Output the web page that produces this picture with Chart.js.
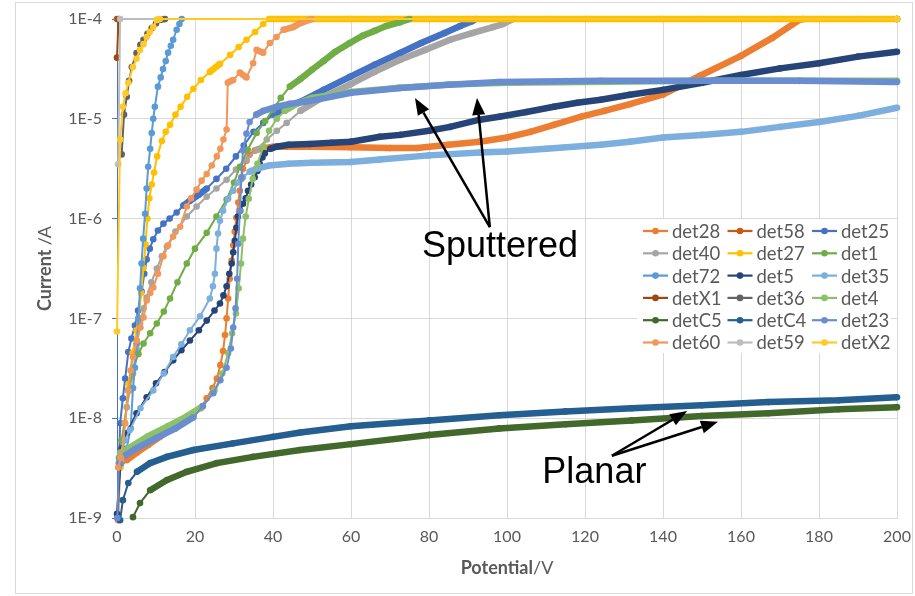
<!DOCTYPE html>
<html>
<head>
<meta charset="utf-8">
<script src="https://cdn.jsdelivr.net/npm/chart.js@4.4.1/dist/chart.umd.min.js"></script>
<style>
  html, body { margin: 0; padding: 0; background: #fff; }
</style>
</head>
<body>
<canvas id="myChart" width="915" height="596"></canvas>
<script>
// data: [potential V, current A]
var det28 = [[0.3,9.5e-10],[0.8,3.2e-9],[2.5,3.8e-9],[5,4.5e-9],[8,5.4e-9],[11,6.5e-9],[14,7.9e-9],[17,9.3e-9],[19.6,1.07e-8],[21.5,1.26e-8],[23,1.58e-8],[24.5,2e-8],[25.6,2.5e-8],[26.5,3.4e-8],[27.2,4.7e-8],[27.7,6.8e-8],[28.1,1e-7],[28.5,1.58e-7],[28.9,2.5e-7],[29.4,3.8e-7],[29.8,5.4e-7],[30.2,7.4e-7],[30.6,1.02e-6],[31.1,1.45e-6],[31.5,1.9e-6],[31.9,2.5e-6],[32.3,3.16e-6],[33.2,3.8e-6],[34,4.37e-6],[35.3,4.8e-6],[36.6,5e-6],[40,5.25e-6],[50,5.25e-6],[60,5.2e-6],[70,5.1e-6],[77,5.1e-6],[85,5.5e-6],[93,5.9e-6],[100,6.5e-6],[106,7.4e-6],[112,8.7e-6],[119,1.05e-5],[125,1.2e-5],[131.5,1.4e-5],[140,1.75e-5],[149.5,2.7e-5],[160,4.27e-5],[168,6.46e-5],[175,9.8e-5],[176,1e-4]];
var det58 = [[0,1e-4],[200,1e-4]];
var det25 = [[0.1,1e-9],[0.8,8.9e-9],[1.5,1.58e-8],[2.1,2.5e-8],[2.9,4.6e-8],[3.7,6.3e-8],[4.6,8.5e-8],[5.4,1.2e-7],[6.3,1.86e-7],[7,2.8e-7],[7.6,3.9e-7],[8.4,5e-7],[9.3,6.2e-7],[10.5,7.6e-7],[11.9,8.9e-7],[13.5,1e-6],[15.3,1.15e-6],[17,1.35e-6],[18.7,1.51e-6],[21,1.74e-6],[23,2e-6],[25.5,2.5e-6],[28,3.16e-6],[30.5,4.2e-6],[32.5,5.4e-6],[35,7.4e-6],[37.5,9.1e-6],[40,1.1e-5],[43,1.26e-5],[47,1.48e-5],[53,1.95e-5],[59.7,2.63e-5],[66,3.47e-5],[72.6,4.57e-5],[78,5.75e-5],[84,7.24e-5],[88,8.5e-5],[91,9.5e-5],[92,1e-4]];
var det40 = [[0.5,3.55e-9],[1.2,6e-9],[2.5,1.29e-8],[3.3,1.9e-8],[4.1,2.8e-8],[5,5e-8],[5.9,8.9e-8],[6.8,1.26e-7],[7.6,1.62e-7],[8.8,2.3e-7],[10.2,3.16e-7],[11.5,4.2e-7],[12.8,5.25e-7],[15,7.4e-7],[17.9,1.05e-6],[20.4,1.32e-6],[23,1.66e-6],[25.5,2e-6],[28.1,2.45e-6],[30.5,3.1e-6],[33.2,3.9e-6],[35.8,4.9e-6],[38.4,6.2e-6],[41,7.6e-6],[43.5,9.1e-6],[47,1.2e-5],[53,1.66e-5],[59.7,2.2e-5],[66,2.95e-5],[72.6,3.9e-5],[79,4.9e-5],[85.4,6.2e-5],[91,7.2e-5],[96.4,8.3e-5],[99,8.9e-5],[101.5,1e-4]];
var det27 = [[0.8,3.2e-9],[2,9e-9],[3,2.2e-8],[4,4.5e-8],[5,7.6e-8],[5.5,1e-7],[6.2,1.8e-7],[6.8,3.2e-7],[7.3,5.5e-7],[7.8,1e-6],[8.3,1.6e-6],[8.9,2.2e-6],[9.5,2.9e-6],[10.3,4.2e-6],[11.5,6e-6],[12.5,7.4e-6],[13.6,8.7e-6],[15,1.1e-5],[16.3,1.32e-5],[18,1.66e-5],[19.6,2e-5],[21.5,2.45e-5],[23.8,2.95e-5],[26.4,3.55e-5],[29,4.37e-5],[31.2,5.25e-5],[33.2,6.2e-5],[35.4,7.4e-5],[37.5,8.9e-5],[39,1e-4],[50,1e-4],[60,1e-4],[70,1e-4],[80,1e-4],[90,1e-4],[100,1e-4],[110,1e-4],[120,1e-4],[130,1e-4],[140,1e-4],[150,1e-4],[160,1e-4],[170,1e-4],[180,1e-4],[190,1e-4],[200,1e-4]];
var det1 = [[0.5,4e-9],[1.2,6e-9],[2,8.9e-9],[2.9,1.9e-8],[4.2,3.2e-8],[5.5,4.4e-8],[6.8,5.6e-8],[8.5,7.1e-8],[10.2,8.9e-8],[12,1.17e-7],[13.6,1.58e-7],[15.5,2.3e-7],[17.9,3.55e-7],[20,5e-7],[23,7.2e-7],[25.5,1.05e-6],[28.1,1.55e-6],[30,2.3e-6],[31.5,3.3e-6],[33.5,4.9e-6],[35.8,7.2e-6],[38,9.5e-6],[40,1.23e-5],[42,1.62e-5],[44.3,2.1e-5],[47,2.5e-5],[50,3.1e-5],[53,3.8e-5],[56,4.7e-5],[59.7,5.75e-5],[63,6.8e-5],[66,7.6e-5],[69,8.5e-5],[72.6,9.3e-5],[75,1e-4]];
var det72 = [[1,3.5e-9],[2.5,5e-9],[3.5,7.9e-9],[4.1,2e-8],[4.6,3.2e-8],[5.1,5.6e-8],[5.5,1e-7],[5.9,2e-7],[6.3,3.55e-7],[6.7,6.3e-7],[7.2,1.12e-6],[7.6,2e-6],[8,3.3e-6],[8.5,5e-6],[8.9,7.2e-6],[9.3,1e-5],[9.7,1.32e-5],[10.5,2.1e-5],[11.2,2.6e-5],[11.8,3.16e-5],[12.5,3.8e-5],[13.1,4.6e-5],[13.8,5.4e-5],[14.4,6.2e-5],[15.3,7.8e-5],[16,8.9e-5],[16.6,1e-4]];
var det5 = [[0,1.1e-9],[1.2,5e-9],[2.5,7.1e-9],[5,1.12e-8],[7.6,1.62e-8],[10,2.24e-8],[12.2,2.9e-8],[14.4,3.8e-8],[16.5,4.8e-8],[18.7,6e-8],[21,7.6e-8],[23,9.5e-8],[25,1.2e-7],[26.4,1.41e-7],[27.3,1.7e-7],[28.1,2.1e-7],[28.8,2.8e-7],[29.4,3.55e-7],[29.8,4.6e-7],[30.2,6e-7],[30.6,8.1e-7],[31,1.05e-6],[31.6,1.2e-6],[32.3,1.41e-6],[33,1.6e-6],[33.6,1.9e-6],[34.4,2.2e-6],[35.3,2.6e-6],[36,3e-6],[36.6,3.55e-6],[37.3,4.1e-6],[37.9,4.5e-6],[39.3,5e-6],[40.9,5.25e-6],[44,5.5e-6],[49.4,5.6e-6],[55,5.75e-6],[60,5.9e-6],[67.4,6.6e-6],[72.6,6.9e-6],[80,7.6e-6],[85.4,8.3e-6],[93,9.8e-6],[98,1.05e-5],[105,1.17e-5],[112,1.32e-5],[118,1.45e-5],[124,1.55e-5],[131.5,1.74e-5],[140,1.95e-5],[150,2.3e-5],[160,2.75e-5],[170,3.2e-5],[180,3.6e-5],[190,4.2e-5],[200,4.7e-5]];
var det35 = [[0.8,4e-9],[2,6e-9],[3.3,7.6e-9],[6,1.26e-8],[9.3,1.9e-8],[12,2.8e-8],[14.4,4.1e-8],[16.5,5.5e-8],[18.7,7.6e-8],[21.3,1.05e-7],[23.8,1.58e-7],[24.6,2.1e-7],[25.1,2.8e-7],[25.5,5e-7],[25.9,7.1e-7],[26.4,9.5e-7],[27.2,1.2e-6],[28.5,1.58e-6],[29.8,1.9e-6],[31,2.3e-6],[32.3,2.6e-6],[34,2.95e-6],[35.7,3.16e-6],[39,3.4e-6],[44,3.55e-6],[50,3.63e-6],[60,3.7e-6],[67.4,3.9e-6],[80,4.3e-6],[93,4.6e-6],[100,4.7e-6],[110,5e-6],[124,5.5e-6],[131.5,5.9e-6],[140,6.5e-6],[150,6.9e-6],[160,7.4e-6],[170,8.3e-6],[180,9.3e-6],[190,1.07e-5],[200,1.29e-5]];
var detX1 = [[0,4.1e-5],[0.4,1e-4],[200,1e-4]];
var det36 = [[1.2,4.4e-6],[1.8,1.1e-5],[2.5,1.66e-5],[3.1,2.4e-5],[3.8,3.3e-5],[5,4.57e-5],[6,5.5e-5],[6.8,6.2e-5],[7.8,7.1e-5],[8.9,8.1e-5],[10,9e-5],[11,9.8e-5],[12.3,1e-4]];
var det4 = [[0.8,4.5e-9],[3,5e-9],[8,6.6e-9],[13,8.3e-9],[18,1.05e-8],[22,1.32e-8],[25,1.9e-8],[27,2.8e-8],[28.5,4.5e-8],[29.5,7.1e-8],[30.5,1.12e-7],[31.2,2e-7],[31.8,3.55e-7],[32.3,6.3e-7],[33,1.05e-6],[33.8,1.58e-6],[34.8,2.5e-6],[36,3.55e-6],[37.5,5.25e-6],[39,7.6e-6],[41,1e-5],[43,1.2e-5],[46,1.41e-5],[50,1.62e-5],[60,1.86e-5],[72,2.04e-5],[85,2.2e-5],[100,2.3e-5],[120,2.34e-5],[150,2.4e-5],[175,2.4e-5],[200,2.4e-5]];
var detC5 = [[4.1,1.02e-9],[5.9,1.41e-9],[8.5,1.9e-9],[12.8,2.4e-9],[17.9,2.9e-9],[25.6,3.55e-9],[34.9,4.1e-9],[47,4.8e-9],[60,5.5e-9],[80,6.8e-9],[98,7.9e-9],[115,8.7e-9],[132,9.5e-9],[150,1.05e-8],[167,1.12e-8],[185,1.23e-8],[200,1.29e-8]];
var detC4 = [[0.8,9.5e-10],[1.5,1.51e-9],[2.9,2.24e-9],[5.1,2.9e-9],[8.5,3.55e-9],[12.8,4.1e-9],[19.6,4.8e-9],[29.8,5.6e-9],[40,6.5e-9],[47,7.2e-9],[60,8.3e-9],[80,9.5e-9],[98,1.07e-8],[115,1.17e-8],[132,1.26e-8],[150,1.35e-8],[167,1.45e-8],[185,1.51e-8],[200,1.62e-8]];
var det23 = [[0.1,1e-9],[0.5,3.55e-9],[2,4.2e-9],[5,5e-9],[10,6.3e-9],[15,7.9e-9],[19.6,1.02e-8],[22,1.32e-8],[24.7,1.78e-8],[26.5,2.4e-8],[28.1,3.2e-8],[29.2,5e-8],[29.8,8.1e-8],[30.4,1.26e-7],[30.8,2.5e-7],[31.1,5.6e-7],[31.5,1.2e-6],[31.9,2.6e-6],[32.3,4.8e-6],[33.2,7.1e-6],[34,9.3e-6],[35.7,1.1e-5],[37.5,1.2e-5],[41,1.32e-5],[44.3,1.41e-5],[49.4,1.51e-5],[60,1.82e-5],[72.6,2.04e-5],[85,2.19e-5],[98,2.34e-5],[124,2.4e-5],[150,2.4e-5],[175,2.4e-5],[200,2.34e-5]];
var det60 = [[0.3,3.2e-9],[1,4e-9],[2.1,8.9e-9],[2.9,1.9e-8],[3.5,3e-8],[4.1,4.1e-8],[5.1,6e-8],[6,8.1e-8],[6.8,1.02e-7],[7.6,1.51e-7],[8.5,1.8e-7],[9.3,2.04e-7],[10.5,2.8e-7],[11.9,4.2e-7],[13.1,5.4e-7],[14.4,6.6e-7],[16.2,8.3e-7],[17.9,1.32e-6],[19,1.6e-6],[20.4,1.95e-6],[21.7,2.4e-6],[23,2.8e-6],[24.3,3.4e-6],[25.6,4.2e-6],[26.5,5e-6],[27.3,6.2e-6],[28.1,7.8e-6],[28.4,2.3e-5],[29.8,2.45e-5],[31.5,2.9e-5],[33.2,2.6e-5],[34.9,3.6e-5],[35.8,4.9e-5],[37.5,4.6e-5],[39.2,5.75e-5],[40.9,6.6e-5],[42.7,7.8e-5],[45.2,8.3e-5],[47,9.1e-5],[50,1e-4]];
var det59 = [[0.3,3.5e-6],[0.8,1e-4],[200,1e-4]];
var detX2 = [[0,7.4e-8],[0.8,6.2e-6],[1.5,1.32e-5],[2.2,1.8e-5],[2.9,2.3e-5],[4.1,3.3e-5],[5,4e-5],[5.9,4.9e-5],[6.8,5.6e-5],[7.6,6.6e-5],[8.4,7.4e-5],[9.3,8.3e-5],[10.2,9.8e-5],[11,1e-4],[200,1e-4]];

var names = ["det28","det58","det25","det40","det27","det1","det72","det5","det35","detX1","det36","det4","detC5","detC4","det23","det60","det59","detX2"];
var series = [det28,det58,det25,det40,det27,det1,det72,det5,det35,detX1,det36,det4,detC5,detC4,det23,det60,det59,detX2];
var colors = ["#ED7D31","#C55A11","#4472C4","#A5A5A5","#FFC000","#70AD47","#5B9BD5","#264478","#7CAFDD","#9E480E","#636363","#8CC168","#43682B","#255E91","#698ED0","#F1975A","#BDBDBD","#FFCA28"];

var yTicks = [1e-9,1e-8,1e-7,1e-6,1e-5,1e-4];
var xTicks = [0,20,40,60,80,100,120,140,160,180,200];

// annotation anchors in data units: [text, textX, textY, tailX, tailY, [tips]]
var notes = [
  ["Sputtered", 98.2, 4.1e-7, 95.6, 8.2e-7, [[76.4, 1.62e-5], [92.3, 1.62e-5]]],
  ["Planar", 122.4, 2.24e-9, 126.9, 4.2e-9, [[146.2, 1.18e-8], [154.1, 9.2e-9]]]
];

var gray = "#595959";

// dense measured parts show as a solid band of overlapping markers
function segWidth(c) {
  var dx = Math.abs(c.p1.x - c.p0.x), dy = Math.abs(c.p1.y - c.p0.y);
  return (dx < 150 && dy < dx * 0.8) ? 6.5 : 2;
}

var datasets = series.map(function (s, i) {
  return {
    label: names[i],
    data: s.map(function (p) { return { x: p[0], y: p[1] }; }),
    borderColor: colors[i],
    backgroundColor: colors[i],
    pointBackgroundColor: colors[i],
    pointBorderWidth: 0,
    pointRadius: 3.3,
    borderWidth: 2,
    tension: 0,
    clip: false,
    order: series.length - i,
    segment: { borderWidth: segWidth }
  };
});

var frame = {
  id: "frame",
  beforeDraw: function (chart) {
    var c = chart.ctx;
    c.save();
    c.fillStyle = "#fff";
    c.fillRect(0, 0, chart.width, chart.height);
    c.strokeStyle = "#D9D9D9";
    c.lineWidth = 1;
    c.strokeRect(15.5, 2.5, 897, 591);
    c.restore();
  }
};

function mixedText(c, parts, x, y) {
  var total = 0;
  parts.forEach(function (p) { c.font = p[1]; total += c.measureText(p[0]).width; });
  var cx = x - total / 2;
  parts.forEach(function (p) {
    c.font = p[1];
    c.fillText(p[0], cx, y);
    cx += c.measureText(p[0]).width;
  });
}

var titles = {
  id: "titles",
  afterDraw: function (chart) {
    var c = chart.ctx, a = chart.chartArea;
    c.save();
    c.fillStyle = gray;
    c.textBaseline = "middle";
    c.textAlign = "left";
    mixedText(c, [["Potential", "bold 18px Lato"], ["/V", "18px Lato"]], (a.left + a.right) / 2, 568);
    c.translate(45, (a.top + a.bottom) / 2);
    c.rotate(-Math.PI / 2);
    mixedText(c, [["Current ", "bold 18px Lato"], ["/A", "18px Lato"]], 0, 0);
    c.restore();
  }
};

var legendBox = {
  id: "legendBox",
  afterDatasetsDraw: function (chart) {
    var c = chart.ctx;
    var x0 = 637, y0 = 219, colW = 84.5, rowH = 22.3;
    c.save();
    c.fillStyle = "#fff";
    c.fillRect(x0, y0, 254, 134);
    c.font = "18.5px Lato";
    c.textBaseline = "middle";
    c.textAlign = "left";
    chart.data.datasets.forEach(function (ds, i) {
      var col = i % 3, row = Math.floor(i / 3);
      var lx = x0 + 6 + col * colW, ly = y0 + 12 + row * rowH;
      c.strokeStyle = ds.borderColor;
      c.lineWidth = 2.2;
      c.beginPath();
      c.moveTo(lx, ly);
      c.lineTo(lx + 25, ly);
      c.stroke();
      c.fillStyle = ds.borderColor;
      c.beginPath();
      c.arc(lx + 12.5, ly, 3.3, 0, Math.PI * 2);
      c.fill();
      c.fillStyle = gray;
      c.fillText(ds.label, lx + 29, ly + 1);
    });
    c.restore();
  }
};

function arrow(c, x0, y0, x1, y1) {
  var ang = Math.atan2(y1 - y0, x1 - x0), L = 17, W = 6.5;
  var bx = x1 - L * Math.cos(ang), by = y1 - L * Math.sin(ang);
  c.beginPath();
  c.moveTo(x0, y0);
  c.lineTo(bx, by);
  c.stroke();
  c.beginPath();
  c.moveTo(x1, y1);
  c.lineTo(bx + W * Math.sin(ang), by - W * Math.cos(ang));
  c.lineTo(bx - W * Math.sin(ang), by + W * Math.cos(ang));
  c.closePath();
  c.fill();
}

var notesPlugin = {
  id: "notes",
  afterDatasetsDraw: function (chart) {
    var c = chart.ctx, xs = chart.scales.x, ys = chart.scales.y;
    c.save();
    c.strokeStyle = "#000";
    c.fillStyle = "#000";
    c.lineWidth = 2.5;
    notes.forEach(function (n) {
      var tx = xs.getPixelForValue(n[3]), ty = ys.getPixelForValue(n[4]);
      n[5].forEach(function (t) {
        arrow(c, tx, ty, xs.getPixelForValue(t[0]), ys.getPixelForValue(t[1]));
      });
      c.font = "36px 'Liberation Sans', Arial, sans-serif";
      c.textAlign = "center";
      c.textBaseline = "alphabetic";
      c.fillText(n[0], xs.getPixelForValue(n[1]), ys.getPixelForValue(n[2]));
    });
    c.restore();
  }
};

var ctx = document.getElementById("myChart").getContext("2d");
var myChart = new Chart(ctx, {
  type: "line",
  data: { datasets: datasets },
  options: {
    responsive: false,
    animation: false,
    devicePixelRatio: 1,
    layout: { padding: { left: 15, right: 18, top: 19, bottom: 0 } },
    plugins: { legend: { display: false }, tooltip: { enabled: false } },
    scales: {
      x: {
        type: "linear",
        min: 0,
        max: 200,
        afterBuildTicks: function (s) { s.ticks = xTicks.map(function (v) { return { value: v }; }); },
        ticks: { color: gray, font: { family: "Lato", size: 16 }, padding: 9, maxRotation: 0 },
        grid: { color: "#D9D9D9", drawTicks: false },
        border: { color: "#D9D9D9" },
        afterFit: function (s) { s.height = 78; s.paddingLeft = 0; s.paddingRight = 0; }
      },
      y: {
        type: "logarithmic",
        min: 1e-9,
        max: 1e-4,
        afterBuildTicks: function (s) { s.ticks = yTicks.map(function (v) { return { value: v }; }); },
        ticks: {
          color: gray,
          font: { family: "Lato", size: 16 },
          padding: 10,
          callback: function (v) { return "1E" + Math.round(Math.log10(v)); }
        },
        grid: { color: "#D9D9D9", tickLength: 5, tickColor: "#4472C4" },
        border: { color: "#4472C4" },
        afterFit: function (s) { s.width = 102; s.paddingTop = 0; s.paddingBottom = 0; }
      }
    }
  },
  plugins: [frame, legendBox, notesPlugin, titles]
});
</script>
</body>
</html>
